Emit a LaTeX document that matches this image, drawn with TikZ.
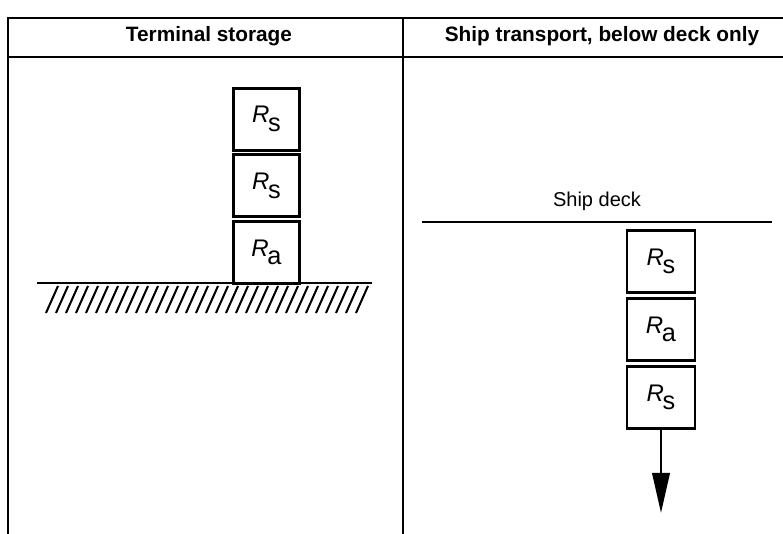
\documentclass[tikz,border=0pt]{standalone}
\usepackage{fontspec}
\setmainfont{Liberation Sans}
\usetikzlibrary{arrows.meta,positioning}

\newcommand{\Rsub}[1]{\textit{R}\kern-1pt\raisebox{-6.5pt}{\fontsize{19}{19}\selectfont #1}}

\begin{document}
\begin{tikzpicture}[x=0.75pt,y=-0.75pt,
  crate/.style={draw,line width=2.2pt,minimum width=49.5pt,minimum height=46.5pt,inner sep=0pt,outer sep=0pt,font=\fontsize{18}{20}\selectfont},
  head/.style={font=\bfseries\fontsize{15.6}{18}\selectfont,anchor=base},
  lab/.style={font=\fontsize{15}{18}\selectfont,anchor=base},
  rule/.style={line width=1.5pt},
  arr/.style={-{Triangle[length=30pt,width=13pt]},line width=2pt}]
\useasboundingbox (0,0) rectangle (783,534);
% table frame
\draw[rule] (8,534) -- (8,18) -- (783,18);
\draw[rule] (8,57) -- (783,57);
\draw[rule] (403,18) -- (403,534);
\node[head] (hterm) at (209,42) {Terminal storage};
\node[head] (hship) at (602,42) {Ship transport, below deck only};
% terminal stack
\coordinate (gl) at (37,283);
\coordinate (gr) at (372,283);
\draw[rule] (gl) -- (gr);
\foreach \x in {46,56,...,356}
  \draw[line width=1.5pt] (\x,313) -- (\x+12,286);
\node[crate] (ra) at (266.5,252.5) {\Rsub{a}};
\node[crate,above=3.5pt of ra] (rs2) {\Rsub{s}};
\node[crate,above=3.5pt of rs2] (rs1) {\Rsub{s}};
% ship stack
\coordinate (dl) at (422,222);
\coordinate (dr) at (772,222);
\draw[line width=2.2pt] (dl) -- (dr);
\node[lab] (deck) at (597,207) {Ship deck};
\node[crate,minimum width=51pt] (rs3) at (661,261.5) {\Rsub{s}};
\node[crate,minimum width=51pt,below=4.5pt of rs3] (rb) {\Rsub{a}};
\node[crate,minimum width=51pt,below=4.5pt of rb] (rs4) {\Rsub{s}};
\coordinate (tip) at (661,513);
\draw[arr] (rs4.south) -- (tip);
\end{tikzpicture}
\end{document}
